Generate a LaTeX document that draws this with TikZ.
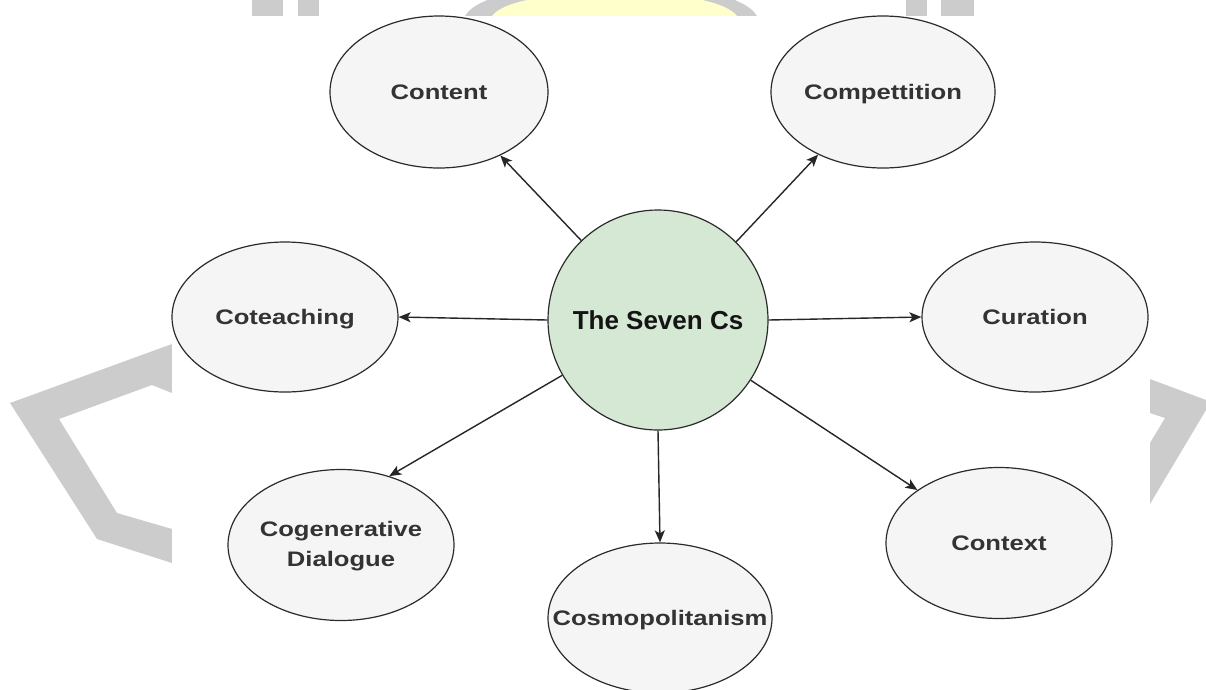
\documentclass[tikz,border=0pt]{standalone}
\usepackage{fontspec}
\setmainfont{Liberation Sans}
\usetikzlibrary{shapes.geometric,arrows.meta}
\definecolor{wmgrey}{HTML}{CCCCCC}
\definecolor{wmyellow}{HTML}{FFFFCC}
\definecolor{outerfill}{HTML}{F5F5F5}
\definecolor{outerline}{HTML}{2B2B2B}
\definecolor{outertext}{HTML}{333333}
\definecolor{centerfill}{HTML}{D5E8D4}
\definecolor{centertext}{HTML}{141414}
\newcommand{\wide}[1]{\makebox[0pt]{\scalebox{1.22}[1]{\smash{#1}\vphantom{C}}}}
\tikzset{
  outerc/.style={ellipse, draw=outerline, fill=outerfill, line width=1.2pt,
    inner sep=0pt, text=outertext, font=\fontsize{21}{30}\selectfont\bfseries},
  centerc/.style={circle, draw=outerline, fill=centerfill, line width=1.2pt,
    inner sep=0pt, minimum size=220pt, text=centertext,
    font=\fontsize{26}{30}\selectfont\bfseries},
  link/.style={-{Stealth[length=12pt,width=10pt,inset=3pt]}, line width=1.4pt, draw=black!85},
  wm/.style={fill=wmgrey, draw=none}
}
\begin{document}
\begin{tikzpicture}[x=1pt,y=-1pt]
\useasboundingbox (0,0) rectangle (1206,689);
% watermark background
\fill[wm] (172,344) -- (10,403) -- (97,539) -- (172,563) -- (172,529) -- (117,513)
  -- (59,419) -- (152,385) -- (172,393) -- cycle;
\fill[wm] (1150,379) -- (1206,400) -- (1206,410) -- (1150,504) -- (1150,443)
  -- (1165,418) -- (1150,413) -- cycle;
\fill[wm] (252,0) rectangle (283,16);
\fill[wm] (298,0) rectangle (319,16);
\fill[wm] (906,0) rectangle (927,16);
\fill[wm] (941,0) rectangle (974,16);
\fill[wm] (465,16) .. controls (490,-28) and (732,-28) .. (757,16) -- cycle;
\fill[wmyellow] (492,16) .. controls (515,-16) and (714,-16) .. (737,16) -- cycle;
\fill[white] (172,16) rectangle (1150,689);
% nodes
\node[centerc] (c) at (658,320) {The Seven Cs};
\node[outerc, minimum width=218pt, minimum height=152pt] (content) at (439,92) {\wide{Content}};
\node[outerc, minimum width=224pt, minimum height=152pt] (compet) at (883,92) {\wide{Compettition}};
\node[outerc, minimum width=226pt, minimum height=150pt] (cotea) at (285,317) {\wide{Coteaching}};
\node[outerc, minimum width=226pt, minimum height=150pt] (curat) at (1035,317) {\wide{Curation}};
\node[outerc, minimum width=226pt, minimum height=151pt] (cogen) at (341,545)
  {\makebox[0pt]{\scalebox{1.22}[1]{\begin{tabular}{@{}c@{}}Cogenerative\\Dialogue\end{tabular}}}};
\node[outerc, minimum width=224pt, minimum height=150pt] (cosmo) at (660,618) {\wide{Cosmopolitanism}};
\node[outerc, minimum width=226pt, minimum height=151pt] (context) at (999,543) {\wide{Context}};
% connectors
\draw[link] (c.134) -- (content.-46);
\draw[link] (c.45) -- (compet.224);
\draw[link] (c.180) -- (cotea.0);
\draw[link] (c.0) -- (curat.180);
\draw[link] (c.210.6) -- (cogen.55);
\draw[link] (c.270) -- (cosmo.90);
\draw[link] (c.-33) -- (context.147);
\end{tikzpicture}
\end{document}
